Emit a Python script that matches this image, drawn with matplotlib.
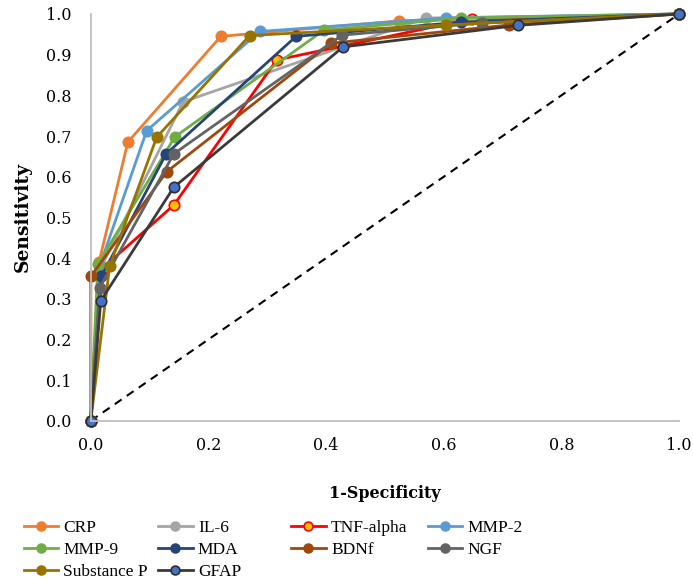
import matplotlib
matplotlib.use('Agg')
import matplotlib.pyplot as plt

plt.rcParams['font.family'] = ['DejaVu Serif']

# ROC points (1-specificity, sensitivity)
crp_x = [0.0, 0.014, 0.063, 0.221, 0.524, 1.0]
crp_y = [0.0, 0.390, 0.685, 0.945, 0.983, 1.0]

il6_x = [0.0, 0.015, 0.157, 0.570, 1.0]
il6_y = [0.0, 0.370, 0.784, 0.990, 1.0]

tnf_x = [0.0, 0.020, 0.141, 0.316, 0.648, 1.0]
tnf_y = [0.0, 0.375, 0.530, 0.887, 0.988, 1.0]

mmp2_x = [0.0, 0.015, 0.095, 0.287, 0.604, 1.0]
mmp2_y = [0.0, 0.380, 0.713, 0.957, 0.990, 1.0]

mmp9_x = [0.0, 0.012, 0.143, 0.396, 0.630, 1.0]
mmp9_y = [0.0, 0.385, 0.698, 0.960, 0.990, 1.0]

mda_x = [0.0, 0.018, 0.128, 0.349, 0.630, 1.0]
mda_y = [0.0, 0.355, 0.656, 0.945, 0.980, 1.0]

bdnf_x = [0.0, 0.0, 0.129, 0.408, 0.711, 1.0]
bdnf_y = [0.0, 0.355, 0.612, 0.928, 0.973, 1.0]

ngf_x = [0.0, 0.015, 0.141, 0.427, 0.665, 1.0]
ngf_y = [0.0, 0.327, 0.656, 0.948, 0.978, 1.0]

subp_x = [0.0, 0.032, 0.112, 0.270, 0.604, 1.0]
subp_y = [0.0, 0.380, 0.697, 0.947, 0.973, 1.0]

gfap_x = [0.0, 0.017, 0.141, 0.429, 0.726, 1.0]
gfap_y = [0.0, 0.295, 0.574, 0.919, 0.972, 1.0]

# name, x, y, line colour, marker face, marker edge
series = [
    ('CRP', crp_x, crp_y, '#ED7D31', '#ED7D31', '#ED7D31'),
    ('IL-6', il6_x, il6_y, '#A5A5A5', '#A5A5A5', '#A5A5A5'),
    ('TNF-alpha', tnf_x, tnf_y, '#FF0000', '#FFC000', '#FF0000'),
    ('MMP-2', mmp2_x, mmp2_y, '#5B9BD5', '#5B9BD5', '#5B9BD5'),
    ('MMP-9', mmp9_x, mmp9_y, '#70AD47', '#70AD47', '#70AD47'),
    ('MDA', mda_x, mda_y, '#264478', '#264478', '#264478'),
    ('BDNf', bdnf_x, bdnf_y, '#9E480E', '#9E480E', '#9E480E'),
    ('NGF', ngf_x, ngf_y, '#636363', '#636363', '#636363'),
    ('Substance P', subp_x, subp_y, '#997300', '#997300', '#997300'),
    ('GFAP', gfap_x, gfap_y, '#3A3A3A', '#4472C4', '#2E2E2E'),
]

# legend laid out row by row in the reference, one list per column here
legend_cols = [
    ['CRP', 'MMP-9', 'Substance P'],
    ['IL-6', 'MDA', 'GFAP'],
    ['TNF-alpha', 'BDNf'],
    ['MMP-2', 'NGF'],
]
legend_x = [0.034, 0.228, 0.420, 0.617]

fig = plt.figure(figsize=(6.93, 5.82), dpi=100)
ax = fig.add_axes([0.131, 0.277, 0.849, 0.699])

ax.plot([0, 1], [0, 1], linestyle=(0, (4, 3)), color='black', lw=1.5, zorder=1)

handles = {}
for name, xs, ys, lc, mfc, mec in series:
    h, = ax.plot(xs, ys, color=lc, lw=2.0, marker='o', markersize=7.5,
                 markerfacecolor=mfc, markeredgecolor=mec, markeredgewidth=1.2,
                 clip_on=False, label=name)
    handles[name] = h

ax.set_xlim(0, 1)
ax.set_ylim(0, 1)
ax.set_xticks([0, 0.2, 0.4, 0.6, 0.8, 1.0])
ax.set_yticks([i / 10 for i in range(11)])
ax.xaxis.set_major_formatter(matplotlib.ticker.FormatStrFormatter('%.1f'))
ax.yaxis.set_major_formatter(matplotlib.ticker.FormatStrFormatter('%.1f'))
ax.tick_params(length=0, labelsize=11.5, pad=12)
ax.tick_params(axis='y', pad=14)
for s in ['top', 'right']:
    ax.spines[s].set_visible(False)
for s in ['left', 'bottom']:
    ax.spines[s].set_color('#BFBFBF')
    ax.spines[s].set_linewidth(1.3)

ax.set_xlabel('1-Specificity', fontsize=11.5, fontweight='bold', labelpad=22)
ax.set_ylabel('Sensitivity', fontsize=13.5, fontweight='bold', labelpad=10)

for names, lx in zip(legend_cols, legend_x):
    leg = fig.legend([handles[n] for n in names], names, loc='upper left',
                     bbox_to_anchor=(lx, 0.106), frameon=False,
                     prop={'family': 'Liberation Serif', 'size': 12.5},
                     handlelength=2.0, handletextpad=0.3, markerscale=0.85,
                     labelspacing=0.32, borderpad=0.0, borderaxespad=0.0)

fig.savefig('out.png', dpi=100)
